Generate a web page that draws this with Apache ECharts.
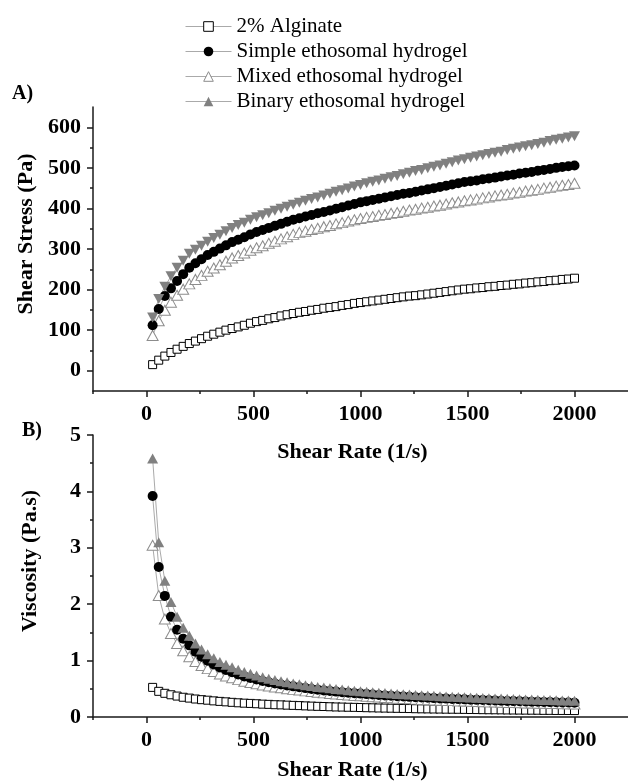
<!DOCTYPE html>
<html>
<head>
<meta charset="utf-8">
<script src="https://cdn.jsdelivr.net/npm/echarts@6/dist/echarts.min.js"></script>
<style>
html, body { margin: 0; padding: 0; background: #fff; }
#container { width: 628px; height: 782px; }
</style>
</head>
<body>
<div id="container"></div>
<script>
var shearRate = [28.6, 57.1, 85.7, 114.3, 142.9, 171.4, 200, 228.6, 257.1, 285.7,
    314.3, 342.9, 371.4, 400, 428.6, 457.1, 485.7, 514.3, 542.9, 571.4,
    600, 628.6, 657.1, 685.7, 714.3, 742.9, 771.4, 800, 828.6, 857.1,
    885.7, 914.3, 942.9, 971.4, 1000, 1028.6, 1057.1, 1085.7, 1114.3, 1142.9,
    1171.4, 1200, 1228.6, 1257.1, 1285.7, 1314.3, 1342.9, 1371.4, 1400, 1428.6,
    1457.1, 1485.7, 1514.3, 1542.9, 1571.4, 1600, 1628.6, 1657.1, 1685.7, 1714.3,
    1742.9, 1771.4, 1800, 1828.6, 1857.1, 1885.7, 1914.3, 1942.9, 1971.4, 2000];

var seriesNames = ['2% Alginate', 'Simple ethosomal hydrogel', 'Mixed ethosomal hydrogel', 'Binary ethosomal hydrogel'];

// A) shear stress (Pa)
var stressAlginate = [15, 26, 36, 45, 53, 60, 67, 73, 79, 85,
    90, 95, 100, 104, 108, 112, 117, 121, 124, 128,
    131, 135, 138, 141, 144, 146, 149, 151, 154, 156,
    158, 161, 163, 166, 168, 170, 172, 174, 176, 178,
    180, 182, 184, 185, 187, 189, 191, 193, 195, 197,
    199, 201, 202, 204, 205, 207, 208, 210, 211, 213,
    214, 216, 217, 219, 220, 222, 223, 225, 226, 228];
var stressSimple = [112, 152, 184, 203, 221, 238, 254, 265, 275, 285,
    293, 301, 309, 317, 323, 329, 336, 342, 347, 352,
    357, 362, 367, 372, 376, 380, 384, 388, 391, 395,
    399, 403, 407, 411, 415, 418, 421, 424, 427, 430,
    433, 436, 438, 441, 444, 447, 450, 453, 456, 459,
    462, 465, 467, 469, 472, 474, 476, 479, 481, 483,
    486, 488, 490, 493, 495, 497, 500, 502, 504, 506];
var stressMixed = [87, 123, 149, 169, 186, 201, 214, 225, 235, 245,
    253, 261, 270, 278, 284, 290, 297, 303, 308, 314,
    319, 325, 330, 336, 341, 344, 348, 351, 355, 358,
    362, 365, 369, 372, 375, 378, 380, 383, 385, 388,
    390, 393, 396, 398, 401, 403, 406, 408, 411, 414,
    416, 419, 421, 423, 426, 428, 431, 433, 435, 438,
    440, 443, 445, 447, 450, 452, 455, 457, 459, 462];
var stressBinary = [131, 177, 207, 233, 254, 271, 288, 298, 308, 318,
    327, 335, 344, 352, 359, 365, 372, 378, 383, 388,
    394, 399, 404, 409, 414, 419, 423, 427, 432, 436,
    441, 445, 449, 454, 458, 462, 466, 469, 473, 477,
    480, 484, 488, 492, 495, 499, 503, 506, 510, 514,
    518, 521, 525, 528, 531, 534, 537, 540, 544, 547,
    550, 553, 556, 559, 562, 566, 569, 572, 575, 578];

// B) viscosity (Pa.s)
var viscAlginate = [0.525, 0.455, 0.42, 0.394, 0.371, 0.35, 0.335, 0.319, 0.307, 0.298,
    0.286, 0.277, 0.269, 0.26, 0.252, 0.245, 0.241, 0.235, 0.228, 0.224,
    0.218, 0.215, 0.21, 0.206, 0.202, 0.197, 0.193, 0.189, 0.186, 0.182,
    0.178, 0.176, 0.173, 0.171, 0.168, 0.165, 0.163, 0.16, 0.158, 0.156,
    0.154, 0.152, 0.15, 0.147, 0.145, 0.144, 0.142, 0.141, 0.139, 0.138,
    0.137, 0.135, 0.133, 0.132, 0.13, 0.129, 0.128, 0.127, 0.125, 0.124,
    0.123, 0.122, 0.121, 0.12, 0.118, 0.118, 0.116, 0.116, 0.115, 0.114];
var viscSimple = [3.92, 2.66, 2.147, 1.776, 1.547, 1.388, 1.27, 1.159, 1.069, 0.998,
    0.932, 0.878, 0.832, 0.793, 0.754, 0.72, 0.692, 0.665, 0.639, 0.616,
    0.595, 0.576, 0.558, 0.543, 0.526, 0.512, 0.498, 0.485, 0.472, 0.461,
    0.45, 0.441, 0.432, 0.423, 0.415, 0.406, 0.398, 0.391, 0.383, 0.376,
    0.37, 0.363, 0.357, 0.351, 0.345, 0.34, 0.335, 0.33, 0.326, 0.321,
    0.317, 0.313, 0.308, 0.304, 0.3, 0.296, 0.292, 0.289, 0.285, 0.282,
    0.279, 0.275, 0.272, 0.27, 0.267, 0.264, 0.261, 0.258, 0.256, 0.253];
var viscMixed = [3.045, 2.153, 1.738, 1.479, 1.302, 1.173, 1.07, 0.984, 0.914, 0.858,
    0.805, 0.761, 0.727, 0.695, 0.663, 0.634, 0.611, 0.589, 0.567, 0.55,
    0.532, 0.517, 0.502, 0.49, 0.477, 0.463, 0.451, 0.439, 0.428, 0.418,
    0.409, 0.399, 0.391, 0.383, 0.375, 0.367, 0.359, 0.353, 0.346, 0.34,
    0.333, 0.328, 0.322, 0.317, 0.312, 0.307, 0.302, 0.298, 0.294, 0.29,
    0.285, 0.282, 0.278, 0.274, 0.271, 0.268, 0.265, 0.261, 0.258, 0.256,
    0.252, 0.25, 0.247, 0.244, 0.242, 0.24, 0.238, 0.235, 0.233, 0.231];
var viscBinary = [4.585, 3.098, 2.415, 2.039, 1.778, 1.581, 1.44, 1.304, 1.198, 1.113,
    1.04, 0.977, 0.926, 0.88, 0.838, 0.798, 0.766, 0.735, 0.706, 0.679,
    0.657, 0.635, 0.615, 0.596, 0.58, 0.564, 0.548, 0.534, 0.521, 0.509,
    0.498, 0.487, 0.476, 0.467, 0.458, 0.449, 0.441, 0.432, 0.424, 0.417,
    0.41, 0.403, 0.397, 0.391, 0.385, 0.38, 0.375, 0.369, 0.364, 0.36,
    0.355, 0.351, 0.347, 0.342, 0.338, 0.334, 0.33, 0.326, 0.323, 0.319,
    0.316, 0.312, 0.309, 0.306, 0.303, 0.3, 0.297, 0.294, 0.292, 0.289];

// axis ticks
var xMajor = [0, 500, 1000, 1500, 2000];
var xMinor = [-250, 250, 750, 1250, 1750];
var stressMajor = [0, 100, 200, 300, 400, 500, 600];
var stressMinor = [50, 150, 250, 350, 450, 550];
var viscMajor = [0, 1, 2, 3, 4, 5];
var viscMinor = [0.5, 1.5, 2.5, 3.5, 4.5];

var serif = 'Liberation Serif';
var axisColor = '#1a1a1a';
var linkLine = {color: '#aaaaaa', width: 1};

var looks = [
    {symbol: 'rect', symbolSize: 8, itemStyle: {color: '#fff', borderColor: '#000', borderWidth: 1}},
    {symbol: 'circle', symbolSize: 10, itemStyle: {color: '#000'}},
    {symbol: 'triangle', symbolSize: [11, 10], itemStyle: {color: '#fff', borderColor: '#8c8c8c', borderWidth: 1}},
    {symbol: 'triangle', symbolSize: [11, 10], itemStyle: {color: '#808080'}}
];

function pairs(ys) {
    return shearRate.map(function (x, i) { return [x, ys[i]]; });
}

function makeSeries(k, axisIndex, ys, rotate) {
    return {
        type: 'line',
        name: seriesNames[k],
        xAxisIndex: axisIndex,
        yAxisIndex: axisIndex,
        data: pairs(ys),
        symbol: looks[k].symbol,
        symbolSize: looks[k].symbolSize,
        symbolRotate: rotate || 0,
        itemStyle: looks[k].itemStyle,
        lineStyle: linkLine,
        showSymbol: true,
        animation: false
    };
}

function boldText(size) {
    return {fontFamily: serif, fontWeight: 'bold', fontSize: size, color: '#000'};
}

function plain(v) {
    return String(v);
}

function xAxisPair(grid, gap) {
    return [{
        type: 'value', gridIndex: grid, position: 'bottom', min: -250, max: 2250, interval: 250,
        name: 'Shear Rate (1/s)', nameLocation: 'middle', nameGap: gap,
        nameTextStyle: Object.assign(boldText(22), {padding: [0, 16, 0, 0]}),
        axisLine: {onZero: false, lineStyle: {color: axisColor, width: 1.5}},
        axisTick: {customValues: xMajor, length: 6, lineStyle: {color: axisColor, width: 1.5}},
        axisLabel: Object.assign(boldText(22), {customValues: xMajor, margin: 12, formatter: plain}),
        splitLine: {show: false}
    }, {
        type: 'value', gridIndex: grid, position: 'bottom', min: -250, max: 2250, interval: 250,
        axisLine: {show: false, onZero: false},
        axisTick: {customValues: xMinor, length: 3, lineStyle: {color: axisColor, width: 1.5}},
        axisLabel: {show: false},
        splitLine: {show: false}
    }];
}

function yAxisPair(grid, name, min, max, step, major, minor, gap) {
    return [{
        type: 'value', gridIndex: grid, position: 'left', min: min, max: max, interval: step,
        name: name, nameLocation: 'middle', nameGap: gap,
        nameTextStyle: Object.assign(boldText(22), {padding: [0, 0, 0, 30]}),
        axisLine: {onZero: false, lineStyle: {color: axisColor, width: 1.5}},
        axisTick: {customValues: major, length: 6, lineStyle: {color: axisColor, width: 1.5}},
        axisLabel: Object.assign(boldText(22), {customValues: major, margin: 12, formatter: plain}),
        splitLine: {show: false}
    }, {
        type: 'value', gridIndex: grid, position: 'left', min: min, max: max, interval: step,
        axisLine: {show: false, onZero: false},
        axisTick: {customValues: minor, length: 3, lineStyle: {color: axisColor, width: 1.5}},
        axisLabel: {show: false},
        splitLine: {show: false}
    }];
}

var dom = document.getElementById("container");
var myChart = echarts.init(dom);
var option;

option = {
    backgroundColor: '#fff',
    animation: false,
    legend: {
        orient: 'vertical',
        left: 180,
        top: 11,
        itemWidth: 46,
        itemHeight: 12,
        itemGap: 4,
        symbolRotate: 0,
        lineStyle: {color: '#aaaaaa', width: 1},
        itemStyle: {borderWidth: 1},
        textStyle: {fontFamily: serif, fontSize: 21, color: '#000', lineHeight: 21},
        data: seriesNames
    },
    graphic: [
        {type: 'text', left: 12, top: 84, style: {text: 'A)', font: 'bold 20px "Liberation Serif"', fill: '#000'}},
        {type: 'text', left: 22, top: 421, style: {text: 'B)', font: 'bold 20px "Liberation Serif"', fill: '#000'}}
    ],
    grid: [
        {left: 93, top: 107, width: 536, height: 284},
        {left: 93, top: 435, width: 536, height: 284}
    ],
    xAxis: xAxisPair(0, 50).concat(xAxisPair(1, 42)),
    yAxis: yAxisPair(0, 'Shear Stress (Pa)', -50, 650, 50, stressMajor, stressMinor, 55)
        .concat(yAxisPair(1, 'Viscosity (Pa.s)', 0, 5, 0.5, viscMajor, viscMinor, 52)),
    series: [
        makeSeries(0, 2, viscAlginate),
        makeSeries(2, 2, viscMixed),
        makeSeries(1, 2, viscSimple),
        makeSeries(3, 2, viscBinary),
        makeSeries(0, 0, stressAlginate),
        makeSeries(2, 0, stressMixed),
        makeSeries(1, 0, stressSimple),
        makeSeries(3, 0, stressBinary, 180)
    ]
};

if (option && typeof option === 'object') {
    myChart.setOption(option);
}
</script>
</body>
</html>
